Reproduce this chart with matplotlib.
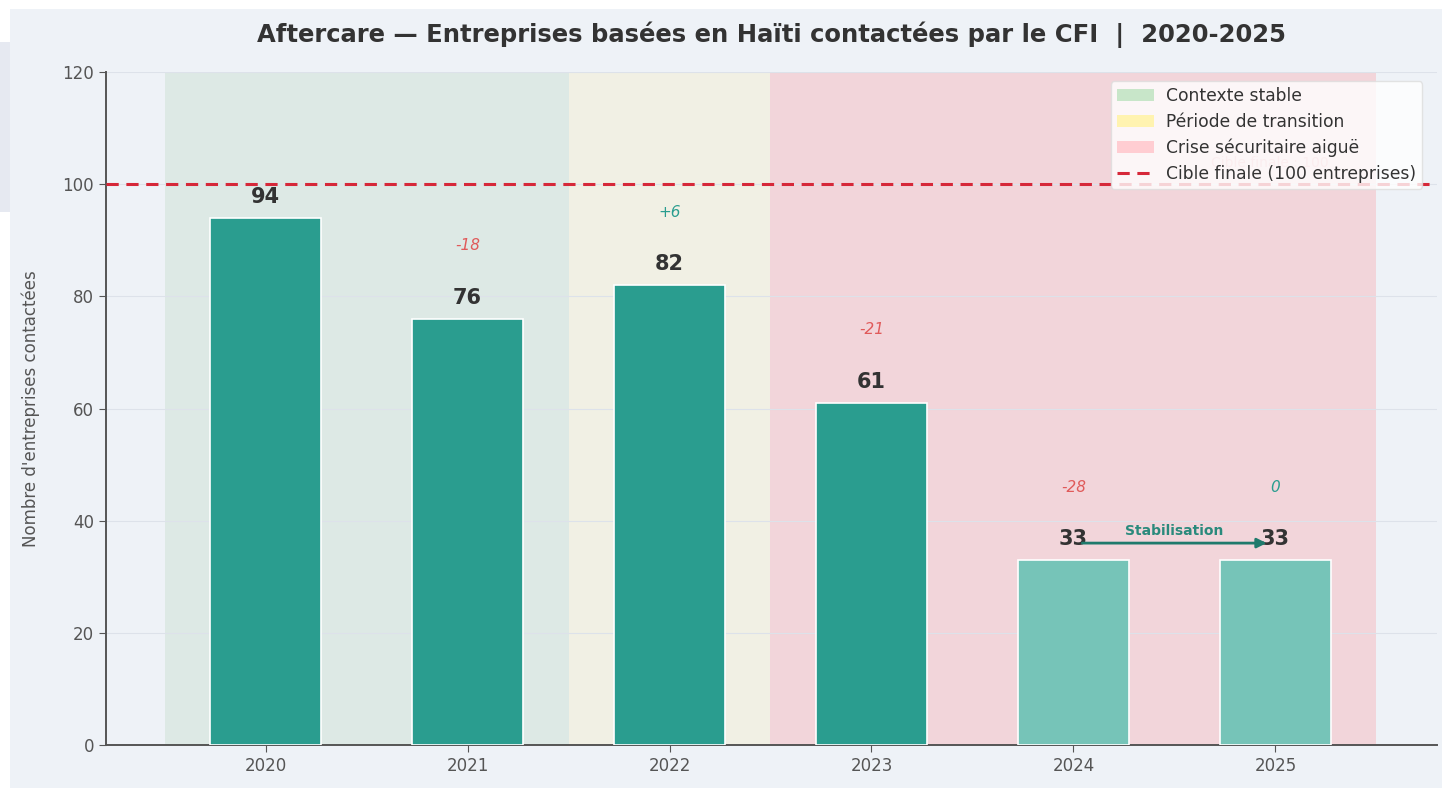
import matplotlib
matplotlib.use("Agg")
import matplotlib.pyplot as plt
from matplotlib.patches import Patch, Rectangle
from matplotlib.lines import Line2D

years = ["2020", "2021", "2022", "2023", "2024", "2025"]
values = [94, 76, 82, 61, 33, 33]
deltas = [None, -18, 6, -21, -28, 0]
target = 100
# (start, end, background tint, legend colour, label)
periods = [(-0.5, 1.5, "#dde9e5", "#c8e6c9", "Contexte stable"),
           (1.5, 2.5, "#f1f0e4", "#fff3b0", "Période de transition"),
           (2.5, 5.5, "#f2d5da", "#ffcdd2", "Crise sécuritaire aiguë")]

plt.rcParams['font.family'] = ['DejaVu Sans']

W, H = 1442, 788
fig = plt.figure(figsize=(W / 100, H / 100), dpi=100, facecolor="#eef2f7")
# screenshot border strips
fig.patches.append(Rectangle((0, 1 - 9 / H), 1, 9 / H, transform=fig.transFigure,
                             facecolor="white", edgecolor="none", zorder=-5))
fig.patches.append(Rectangle((0, 0), 10 / W, 1, transform=fig.transFigure,
                             facecolor="white", edgecolor="none", zorder=-5))
fig.patches.append(Rectangle((0, 1 - 212 / H), 10 / W, 170 / H, transform=fig.transFigure,
                             facecolor="#e6e9f1", edgecolor="none", zorder=-4))

ax = fig.add_axes([106 / W, 1 - 745 / H, (1437 - 106) / W, (745 - 72) / H])
ax.set_facecolor("#eef2f7")

x = list(range(len(years)))

handles = []
for a, b, bg, c, lab in periods:
    ax.axvspan(a, b, color=bg, lw=0, zorder=0)
    handles.append(Patch(facecolor=c, edgecolor="none", label=lab))

colors = ["#2a9d8f"] * 4 + ["#76c4b8"] * 2
ax.bar(x, values, width=0.55, color=colors, edgecolor="white", linewidth=1.2, zorder=3)

ax.axhline(target, color="#d62839", ls=(0, (4, 2.5)), lw=2.2, zorder=4)
handles.append(Line2D([0], [0], color="#d62839", ls=(0, (4, 2.5)), lw=2.2,
                      label="Cible finale (100 entreprises)"))
ax.text(4.97, target + 3.7, "Cible finale : 100", color="#e88a94", fontsize=10,
        ha="center", va="center", alpha=0.6, zorder=2)

for i, v in enumerate(values):
    ax.text(i, v + 1.9, str(v), ha="center", va="bottom", fontsize=15,
            fontweight="bold", color="#333333", zorder=6)
    d = deltas[i]
    if d is not None:
        col = "#e05a5a" if d < 0 else "#2a9d8f"
        s = f"+{d}" if d > 0 else str(d)
        ax.text(i, v + 13, s, ha="center", va="center", fontsize=11,
                style="italic", color=col, zorder=6)

ax.annotate("", xy=(4.97, 36), xytext=(4.03, 36),
            arrowprops=dict(arrowstyle="-|>", color="#1f7a6c", lw=2, mutation_scale=14),
            zorder=7)
ax.text(4.5, 38.2, "Stabilisation", ha="center", va="center", fontsize=10,
        fontweight="bold", color="#2a8a7c", zorder=7)

ax.set_xlim(-0.79, 5.8)
ax.set_ylim(0, 120)
ax.set_xticks(x)
ax.set_xticklabels(years)
ax.set_yticks(range(0, 121, 20))
ax.tick_params(axis="both", labelsize=12, colors="#555555", length=5)
ax.set_ylabel("Nombre d'entreprises contactées", fontsize=12, color="#555555", labelpad=16)
ax.yaxis.grid(True, color="#dde2ea", lw=0.8, zorder=1)
ax.set_axisbelow(True)
for s in ("top", "right"):
    ax.spines[s].set_visible(False)
for s in ("left", "bottom"):
    ax.spines[s].set_color("#555555")
    ax.spines[s].set_linewidth(1.4)

leg = ax.legend(handles=handles, loc="upper right", bbox_to_anchor=(0.9955, 0.999),
                fontsize=12.3, frameon=True, facecolor="white", framealpha=0.8,
                edgecolor="#dddddd", handlelength=2.2, borderpad=0.35,
                labelspacing=0.45, handletextpad=0.7)
for t in leg.get_texts():
    t.set_color("#333333")
leg.set_zorder(10)

fig.text(0.535, 1 - 35 / H,
         "Aftercare — Entreprises basées en Haïti contactées par le CFI  |  2020-2025",
         ha="center", va="center", fontsize=17.5, fontweight="bold", color="#333333")

fig.savefig("out.png", dpi=100, facecolor=fig.get_facecolor())
